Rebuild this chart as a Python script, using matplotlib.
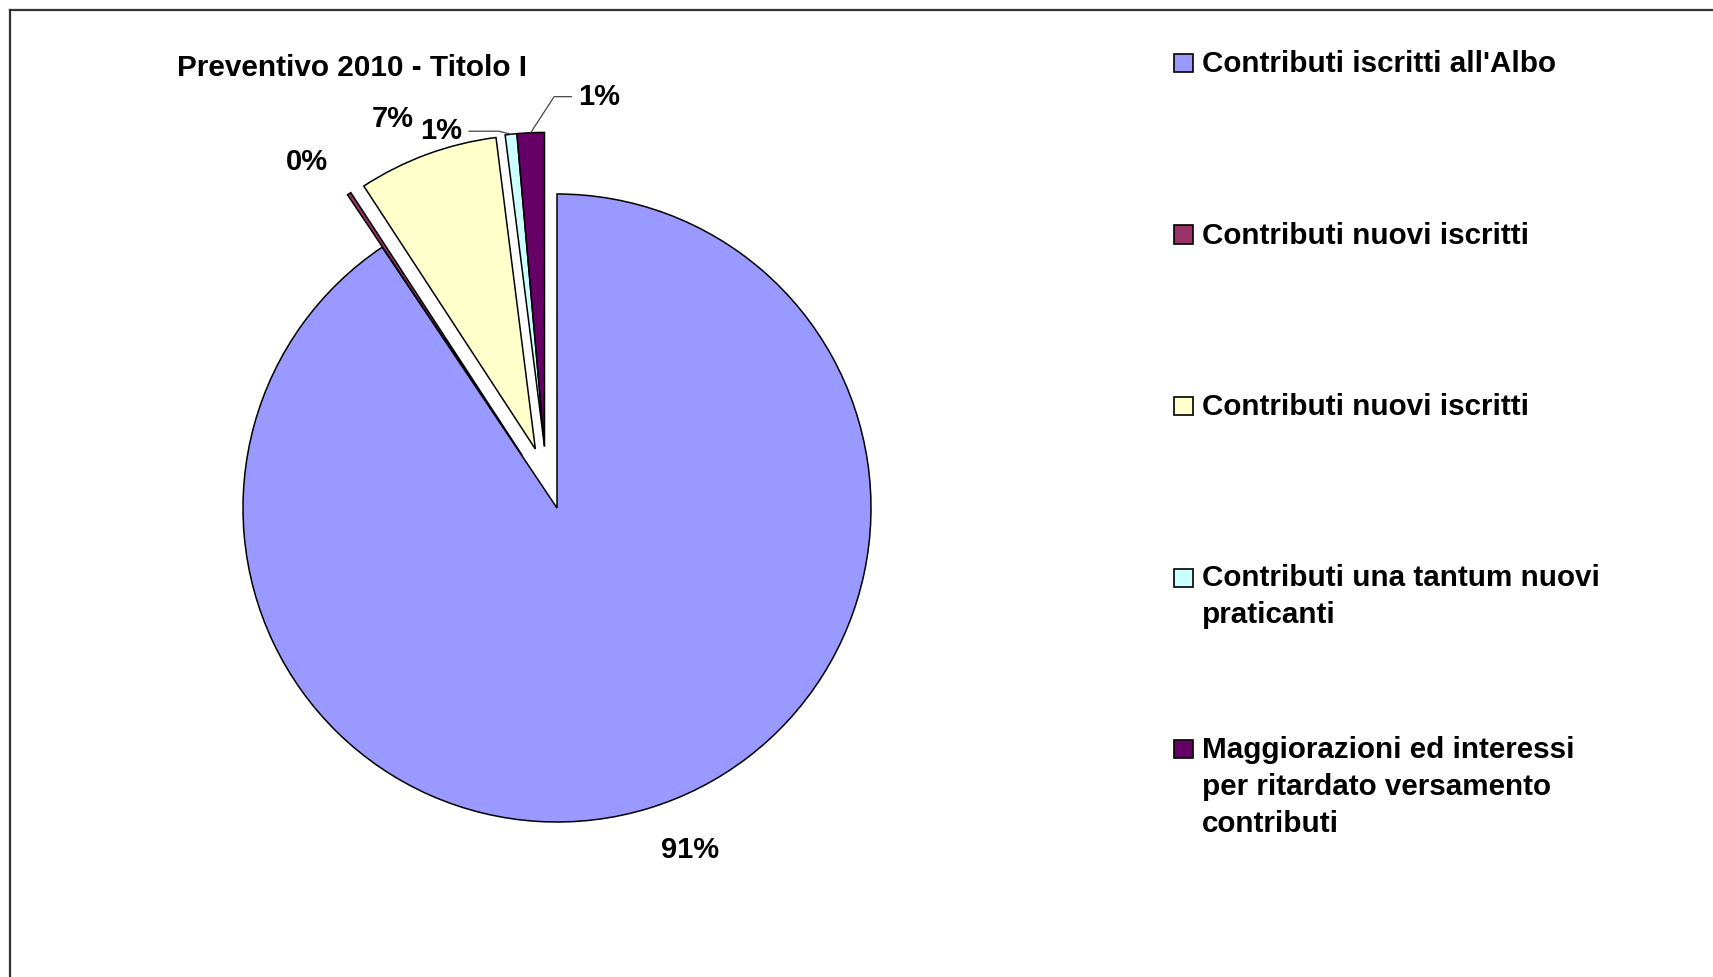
import numpy as np
import matplotlib
matplotlib.use("Agg")
import matplotlib.pyplot as plt
from matplotlib.lines import Line2D
from matplotlib.patches import Rectangle

# Data (share of Titolo I, percent)
categories = [
    "Contributi iscritti all'Albo",
    "Contributi nuovi iscritti",
    "Contributi nuovi iscritti",
    "Contributi una tantum nuovi\npraticanti",
    "Maggiorazioni ed interessi\nper ritardato versamento\ncontributi",
]
shares = [90.6, 0.2, 7.2, 0.6, 1.4]
colors = ["#9999FF", "#993366", "#FFFFCC", "#CCFFFF", "#660066"]
explode = [0, 0.2, 0.2, 0.2, 0.2]
title = "Preventivo 2010 - Titolo I"

W, H = 1713, 977
FONT = "Liberation Sans"

fig = plt.figure(figsize=(W / 100, H / 100), dpi=100)
ax = fig.add_axes([0, 0, 1, 1])

# pie centre / radius in pixels, axes units = radius
cx, cy, r = 557, 508, 314

pct_labels = ["%d%%" % int(round(v)) for v in shares]

wedges, texts = ax.pie(
    shares, explode=explode, colors=colors, startangle=90, counterclock=False,
    labels=pct_labels, labeldistance=1.14, radius=1, center=(0, 0), frame=True,
    wedgeprops=dict(edgecolor="black", linewidth=1.1),
    textprops=dict(fontsize=21, fontweight="bold", family=FONT),
)
ax.set_xlim(-cx / r, (W - cx) / r)
ax.set_ylim(-(H - cy) / r, cy / r)
ax.axis("off")

# Excel pulls the two thinnest slices out a little to the left
pull_dir = np.deg2rad(101.5)
for i in (3, 4):
    wedges[i].set_center((explode[i] * np.cos(pull_dir), explode[i] * np.sin(pull_dir)))

# label distance tweaks for 0% and 7%
for i, d in ((1, 1.12), (2, 1.12)):
    w = wedges[i]
    mid = np.deg2rad((w.theta1 + w.theta2) / 2)
    texts[i].set_position((w.center[0] + d * np.cos(mid), w.center[1] + d * np.sin(mid)))
texts[1].set_ha("right")

# the two small slices get labels moved out with leader lines
label_pos = {3: (-0.37, 1.20), 4: (0.135, 1.31)}
conn = {3: ("angle,angleA=0,angleB=166,rad=0", (1, 0.5)),
        4: ("angle,angleA=0,angleB=57,rad=0", (0, 0.5))}
for i in (3, 4):
    texts[i].set_visible(False)
    w = wedges[i]
    mid = np.deg2rad((w.theta1 + w.theta2) / 2)
    px = w.center[0] + w.r * np.cos(mid)
    py = w.center[1] + w.r * np.sin(mid)
    style, rel = conn[i]
    ax.annotate(pct_labels[i], xy=(px, py), xytext=label_pos[i],
                ha="center", va="center", fontsize=21, fontweight="bold", family=FONT,
                arrowprops=dict(arrowstyle="-", color="#444444", lw=0.9,
                                connectionstyle=style, relpos=rel,
                                shrinkA=3, shrinkB=0))

fig.text(352 / W, 1 - 68 / H, title, ha="center", va="center",
         fontsize=21.4, fontweight="bold", family=FONT)

# legend, drawn by hand so entries keep Excel's even spacing
leg_top = 63
leg_step = 171.5
for i, (lab, col) in enumerate(zip(categories, colors)):
    yc = leg_top + i * leg_step
    fig.add_artist(Rectangle((1174 / W, 1 - (yc + 9) / H), 19 / W, 18 / H,
                             facecolor=col, edgecolor="black", linewidth=1.2,
                             transform=fig.transFigure))
    fig.text(1202 / W, 1 - (yc - 13) / H, lab, ha="left", va="top",
             fontsize=21.3, fontweight="bold", family=FONT, linespacing=1.4)

# chart border (top and left edges visible)
fig.add_artist(Line2D([10 / W, 1], [1 - 10 / H, 1 - 10 / H], color="#333333", lw=1.6))
fig.add_artist(Line2D([10 / W, 10 / W], [0, 1 - 10 / H], color="#333333", lw=1.6))

fig.savefig("out.png", dpi=100, facecolor="white")
